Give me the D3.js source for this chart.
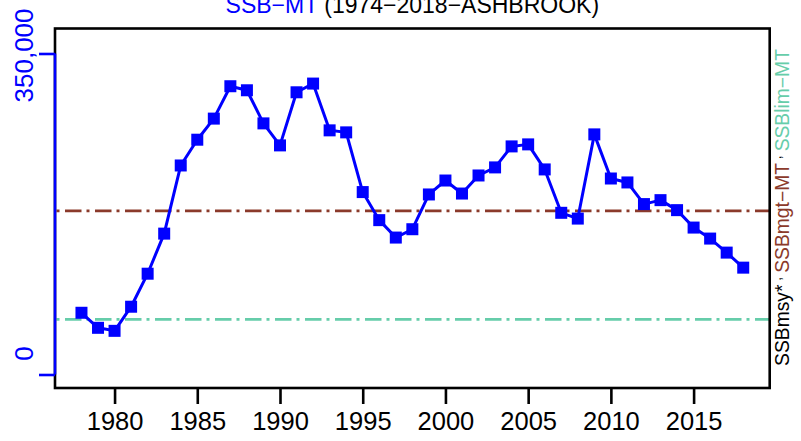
<!DOCTYPE html>
<html>
<head>
<meta charset="utf-8">
<script src="https://cdn.jsdelivr.net/npm/d3@7"></script>
<style>
  html, body { margin: 0; padding: 0; background: #fff; }
  svg { display: block; font-family: "Liberation Sans", Arial, sans-serif; }
</style>
</head>
<body>
<svg id="chart" width="801" height="441"></svg>
<script>
// ---- data ----
const years = d3.range(1978, 2019);
const ssb = [
  67300, 50900, 47600, 73900, 109900, 153600, 227900, 256000, 279000, 314300,
  309900, 273800, 249800, 307700, 317200, 266200, 264000, 198900, 168300, 149300,
  158400, 196300, 211500, 197300, 217000, 225800, 248700, 250900, 223600, 176300,
  170000, 261800, 213700, 209400, 185800, 190100, 179200, 160200, 148200, 132900,
  116500
];
const ssbMgt = 178400;
const ssbLim = 60100;
const xTicks = [1980, 1985, 1990, 1995, 2000, 2005, 2010, 2015];
const yTicks = [0, 350000];
const yTickLabels = ["0", "350,000"];
const titleParts = [["SSB\u2212MT", "#0000FF"], [" (1974\u22122018\u2212ASHBROOK)", "#000000"]];
const rightLabelParts = [
  ["SSBmsy*", "#000000"], [",", "#000000"], ["SSBmgt\u2212MT", "#8B3A2B"],
  [",", "#000000"], ["SSBlim\u2212MT", "#66CDAA"]
];

// ---- layout ----
const svg = d3.select("#chart");
const box = { left: 55, right: 769.7, top: 28.5, bottom: 388 };

const x = d3.scaleLinear().domain([1976.4, 2019.6]).range([box.left, box.right]);
const y = d3.scaleLinear().domain([-14720, 377250]).range([box.bottom, box.top]);

// reference lines
const dash = "16.5,5,3,5.5";
[[ssbMgt, "#8B3A2B"], [ssbLim, "#66CDAA"]].forEach(([v, c]) => {
  svg.append("line")
    .attr("x1", box.left).attr("x2", box.right)
    .attr("y1", y(v)).attr("y2", y(v))
    .attr("stroke", c).attr("stroke-width", 2.6)
    .attr("stroke-dasharray", dash).attr("stroke-dashoffset", 20);
});

// series line
const line = d3.line().x((d, i) => x(years[i])).y(d => y(d));
svg.append("path")
  .datum(ssb)
  .attr("d", line)
  .attr("fill", "none")
  .attr("stroke", "#0000FF")
  .attr("stroke-width", 3)
  .attr("stroke-linejoin", "round");

// squares
const sq = 12;
svg.append("g").selectAll("rect")
  .data(ssb)
  .join("rect")
  .attr("x", (d, i) => x(years[i]) - sq / 2)
  .attr("y", d => y(d) - sq / 2)
  .attr("width", sq).attr("height", sq)
  .attr("fill", "#0000FF");

// box
svg.append("rect")
  .attr("x", box.left).attr("y", box.top)
  .attr("width", box.right - box.left).attr("height", box.bottom - box.top)
  .attr("fill", "none").attr("stroke", "#000").attr("stroke-width", 2.6);

// x axis
const xAxis = svg.append("g").attr("transform", `translate(0,${box.bottom})`)
  .call(d3.axisBottom(x).tickValues(xTicks).tickFormat(d3.format("d"))
    .tickSize(16).tickSizeOuter(0));
xAxis.select(".domain").remove();
xAxis.selectAll(".tick line").attr("stroke", "#000").attr("stroke-width", 2.6);
xAxis.selectAll(".tick text")
  .attr("fill", "#000")
  .attr("font-size", 25.5)
  .attr("font-family", "Liberation Sans, Arial, sans-serif")
  .attr("dy", null)
  .attr("y", 41.5);

// y axis (blue)
const yAxis = svg.append("g").attr("transform", `translate(${box.left},0)`)
  .call(d3.axisLeft(y).tickValues(yTicks).tickFormat((d, i) => yTickLabels[i])
    .tickSize(16).tickSizeOuter(0));
yAxis.select(".domain")
  .attr("d", `M0,${y(yTicks[0])}V${y(yTicks[1])}`)
  .attr("stroke", "#0000FF").attr("stroke-width", 2.6);
yAxis.selectAll(".tick line").attr("stroke", "#0000FF").attr("stroke-width", 2.6);
yAxis.selectAll(".tick text")
  .attr("fill", "#0000FF")
  .attr("font-size", 26)
  .attr("font-family", "Liberation Sans, Arial, sans-serif")
  .attr("text-anchor", "middle")
  .attr("x", null).attr("dy", null)
  .attr("transform", (d, i) => `translate(-22,${i === 0 ? -21.5 : 1.5}) rotate(-90)`);

// title
const title = svg.append("text")
  .attr("x", (box.left + box.right) / 2).attr("y", 12.7)
  .attr("text-anchor", "middle")
  .attr("font-size", 23);
titleParts.forEach(([t, c]) => title.append("tspan").attr("fill", c).text(t));

// right label
const rl = svg.append("text")
  .attr("transform", `translate(789,207.5) rotate(-90)`)
  .attr("text-anchor", "middle")
  .attr("font-size", 19.3);
rightLabelParts.forEach(([t, c], i) => {
  if (t === ",") {
    rl.append("tspan").attr("fill", c).attr("dy", -8).attr("font-size", 14).text("\u00a0,\u00a0");
  } else {
    rl.append("tspan").attr("fill", c).attr("dy", i === 0 ? 0 : 8).text(t);
  }
});
</script>
</body>
</html>
